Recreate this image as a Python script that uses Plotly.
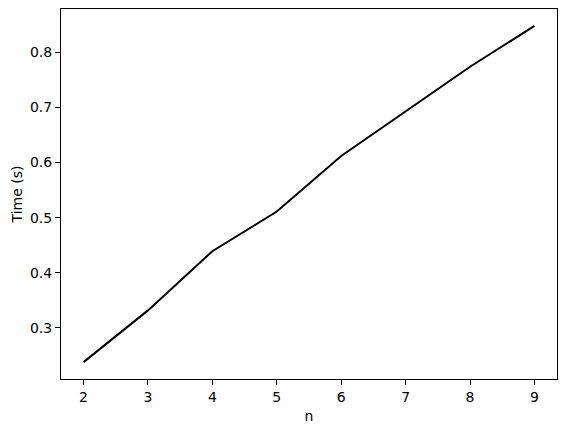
import plotly.graph_objects as go

n_values = [2, 3, 4, 5, 6, 7, 8, 9]
time_values = [0.2375, 0.3315, 0.439, 0.511, 0.612, 0.693, 0.774, 0.848]
x_ticks = [2, 3, 4, 5, 6, 7, 8, 9]
y_ticks = [0.3, 0.4, 0.5, 0.6, 0.7, 0.8]

fig = go.Figure()
fig.add_trace(go.Scatter(x=n_values, y=time_values, mode="lines",
                         line=dict(color="black", width=2)))

axis_common = dict(showline=True, mirror=True, linecolor="black", linewidth=1,
                   ticks="outside", ticklen=5, tickwidth=1, tickcolor="black",
                   showgrid=False, zeroline=False,
                   tickfont=dict(family="DejaVu Sans", size=14, color="black"))

fig.update_xaxes(range=[1.65, 9.35], tickvals=x_ticks,
                 title=dict(text="n", font=dict(family="DejaVu Sans", size=14, color="black"), standoff=7),
                 **axis_common)
fig.update_yaxes(range=[0.2069, 0.8788], tickvals=y_ticks, tickformat=".1f",
                 title=dict(text="Time (s)", font=dict(family="DejaVu Sans", size=14, color="black"), standoff=4),
                 **axis_common)

fig.update_layout(width=567, height=432, margin=dict(l=61, r=10, t=9, b=53),
                  plot_bgcolor="white", paper_bgcolor="white", showlegend=False)

fig.write_html("out.html", config={"displayModeBar": False},
               post_script="document.body.style.margin='0';document.body.style.padding='0';")
